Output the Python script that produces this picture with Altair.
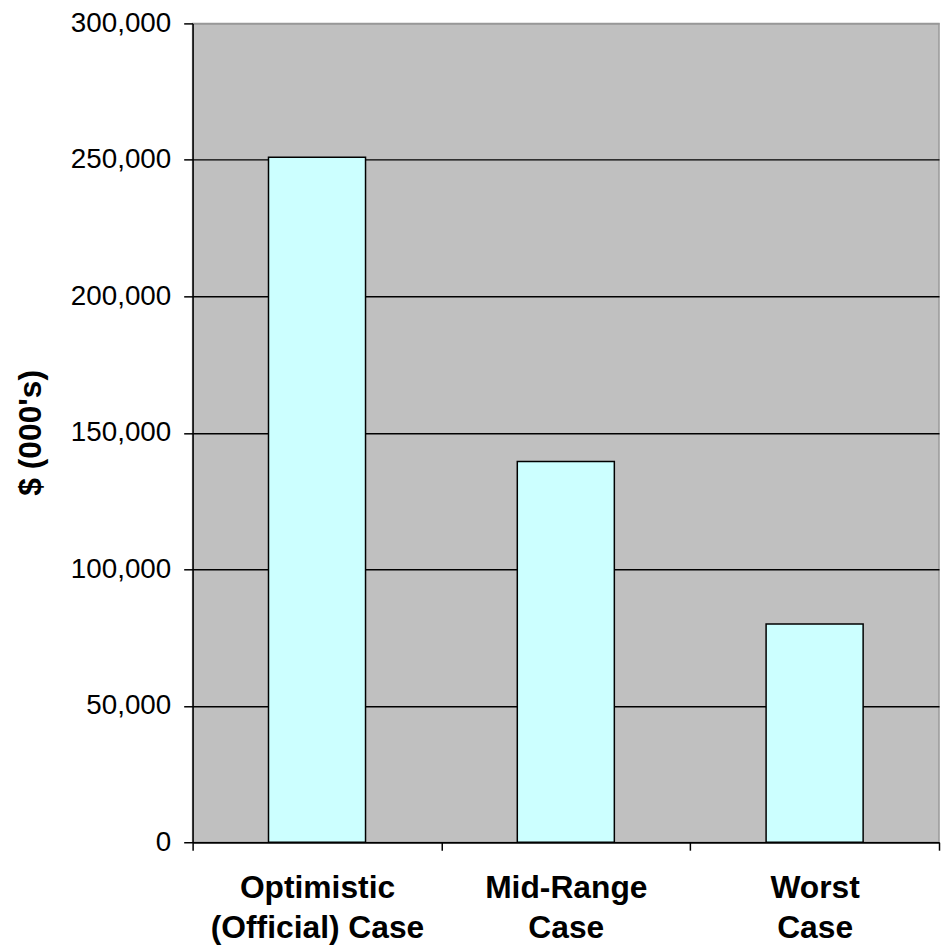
import altair as alt
import pandas as pd

categories = ["Optimistic|(Official) Case", "Mid-Range|Case", "Worst|Case"]
values = [251000, 139500, 80000]
y_ticks = [0, 50000, 100000, 150000, 200000, 250000, 300000]

df = pd.DataFrame({"scenario": categories, "value": values})

bars = alt.Chart(df).mark_bar(
    width=alt.RelativeBandSize(0.39),
    fill="#CCFFFF",
    stroke="black",
    strokeWidth=1.5,
).encode(
    x=alt.X(
        "scenario:N",
        sort=categories,
        scale=alt.Scale(paddingInner=0, paddingOuter=0),
        axis=alt.Axis(
            title=None,
            labelAngle=0,
            labelExpr="split(datum.label, '|')",
            labelFont="Liberation Sans",
            labelFontSize=32,
            labelFontWeight="bold",
            labelColor="black",
            labelLineHeight=40,
            labelBaseline="top",
            labelPadding=23,
            labelLimit=400,
            tickBand="extent",
            tickSize=8,
            tickColor="black",
            tickWidth=1.5,
            domainColor="black",
            domainWidth=1.5,
            grid=False,
        ),
    ),
    y=alt.Y(
        "value:Q",
        scale=alt.Scale(domain=[0, 300000], nice=False),
        axis=alt.Axis(
            values=y_ticks,
            format=",.0f",
            title="$ (000's)",
            titleFont="Liberation Sans",
            titleFontSize=32,
            titleFontWeight="bold",
            titleColor="black",
            titleAngle=270,
            titleBaseline="middle",
            titleAlign="center",
            titleX=-163,
            titleY=412,
            labelFont="Liberation Sans",
            labelFontSize=28,
            labelColor="black",
            labelPadding=13,
            tickSize=9,
            tickColor="black",
            tickWidth=1.5,
            domainColor="black",
            domainWidth=1.5,
            grid=True,
            gridColor={"condition": {"test": "datum.value === 300000", "value": "#999999"}, "value": "black"},
            gridWidth=1.5,
        ),
    ),
)

chart = bars.properties(
    width=752,
    height=825,
    autosize=alt.AutoSizeParams(type="none"),
    padding={"left": 186, "top": 12, "right": 2, "bottom": 100},
    background="white",
).configure_view(
    fill="#C0C0C0",
    stroke="#999999",
    strokeWidth=1.5,
)

chart.save("out.html", embed_options={"renderer": "svg", "actions": False})
